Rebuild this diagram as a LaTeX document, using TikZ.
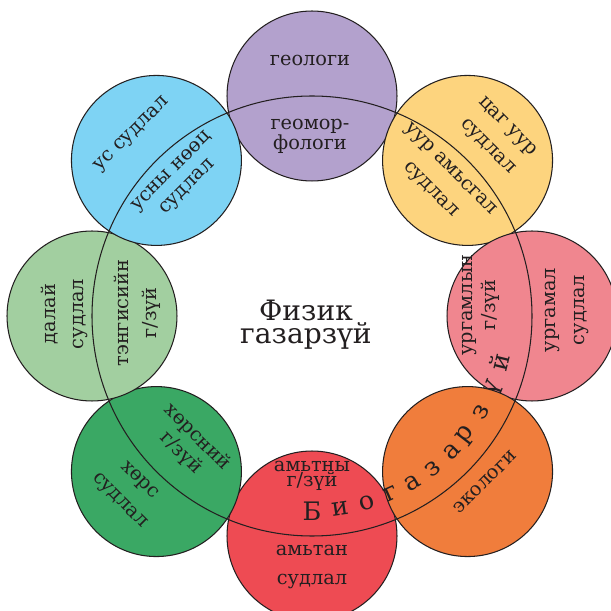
\documentclass[tikz,border=0pt]{standalone}
\usepackage{fontspec}
\setmainfont{DejaVu Serif}
\usepackage{xcolor}
\usetikzlibrary{positioning}

\definecolor{geocol}{HTML}{B3A1CD}
\definecolor{climcol}{HTML}{FDD47E}
\definecolor{botcol}{HTML}{F0868F}
\definecolor{ecocol}{HTML}{F07D3C}
\definecolor{zoocol}{HTML}{EE4B53}
\definecolor{soilcol}{HTML}{3AA864}
\definecolor{oceancol}{HTML}{A2CFA0}
\definecolor{hydrocol}{HTML}{7ED3F4}
\definecolor{ink}{HTML}{231F20}

\tikzset{
  blob/.style={circle, draw=ink, line width=0.6pt, minimum size=3.4cm, inner sep=0pt},
  lbl/.style={font=\fontsize{11}{16}\selectfont, align=center, text=ink, inner sep=0pt},
  bio/.style={font=\fontsize{14.5}{14.5}\selectfont, text=ink, inner sep=0pt},
}

\begin{document}
\begin{tikzpicture}[x=0.02cm, y=0.02cm]
    \useasboundingbox (-312,-295) rectangle (299,316);
    \clip (-312,-295) rectangle (299,316);
    % Círculos alrededor del centro
    \foreach \a/\col/\nm in {90/geocol/geo, 45/climcol/clim, 0/botcol/bot, -90/zoocol/zoo, -135/soilcol/soil, 180/oceancol/ocean, 135/hydrocol/hydro} {
        \node[blob, fill=\col] (\nm) at (\a:220) {};
    }
    % Letra que queda medio tapada por el círculo naranja
    \node[bio, rotate=68.3] (bio10) at (-21.7:195) {ү};
    \node[blob, fill=ecocol] (eco) at (-45:220) {};
    % Círculo grande que separa cada disco
    \draw[draw=ink, line width=0.6pt] (0,0) circle (220);
    % Textos de cada disco
    \node[lbl] (geo-out) at (-2,256) {геологи};
    \node[lbl, font=\fontsize{11}{11.5}\selectfont] (geo-in) at (-2,180) {геомор-\\фологи};
    \node[lbl, rotate=-45] (clim-out) at (185,179) {цаг уур\\судлал};
    \node[lbl, rotate=-45] (clim-in) at (128,136) {уур амьсгал\\судлал};
    \node[lbl, rotate=90] (bot-out) at (255,6) {ургамал\\судлал};
    \node[lbl, rotate=90, font=\fontsize{11}{13}\selectfont] (bot-in) at (169,11) {ургамлын\\г/зүй};
    \node[lbl, rotate=45] (eco-out) at (173,-166) {экологи};
    \node[lbl] (zoo-out) at (0,-251) {амьтан\\судлал};
    \node[lbl, font=\fontsize{11}{8.5}\selectfont] (zoo-in) at (0,-160) {амьтны\\г/зүй};
    \node[lbl, rotate=-45, font=\fontsize{11}{13}\selectfont] (soil-in) at (-123,-129) {хөрсний\\г/зүй};
    \node[lbl, rotate=-45] (soil-out) at (-183,-175) {хөрс\\судлал};
    \node[lbl, rotate=90] (ocean-out) at (-248,2) {далай\\судлал};
    \node[lbl, rotate=90] (ocean-in) at (-175,3) {тэнгисийн\\г/зүй};
    \node[lbl, rotate=45] (hydro-out) at (-180,181) {ус судлал};
    \node[lbl, rotate=45, font=\fontsize{11}{12.5}\selectfont] (hydro-in) at (-132,136) {усны нөөц\\судлал};
    % Texto curvo a lo largo del círculo grande
    \foreach \ch/\a [count=\i] in {Б/-90, и/-81.7, о/-73.6, г/-66, а/-58.8, з/-51.7, а/-44.2, р/-37.7, з/-29.7} {
        \node[bio, rotate=\a+90] (bio\i) at (\a:195) {\ch};
    }
    \node[bio, rotate=76.3] (bio11) at (-13.7:193) {й};
    % Título central
    \node[lbl, font=\fontsize{16}{13}\selectfont] (title) at (-6,-9) {Физик\\газарзүй};
\end{tikzpicture}
\end{document}
